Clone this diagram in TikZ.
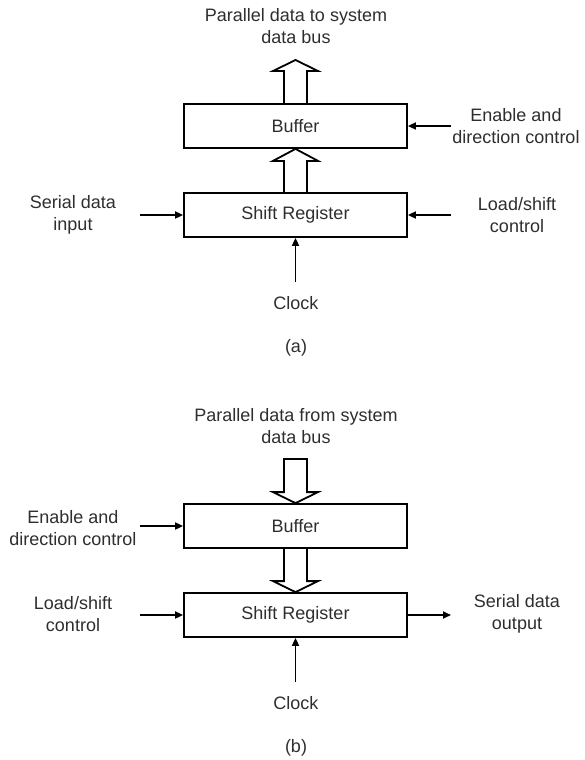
\documentclass[tikz,border=0pt]{standalone}
\usepackage{fontspec}
\setmainfont{Liberation Sans}
\usetikzlibrary{arrows.meta}
\begin{document}
\begin{tikzpicture}[x=1pt,y=1pt,
  blk/.style={draw, line width=1.8pt, minimum width=223pt, minimum height=44pt, inner sep=0pt, text=black!82},
  lbl/.style={align=center, inner sep=0pt, text=black!82, font=\fontsize{18}{21.5}\selectfont},
  sig/.style={line width=1.8pt, -{Triangle[length=8pt,width=7pt]}},
  bus/.style={line width=1.8pt, line join=miter}]
\useasboundingbox (0,0) rectangle (585,-760);
% ---------- (a) ----------
\node[blk, font=\fontsize{18}{21.5}\selectfont] (bufa) at (295.5,-126) {Buffer};
\node[blk, font=\fontsize{18}{21.5}\selectfont] (sra) at (295.5,-215) {Shift Register};
\node[lbl] (titlea) at (296,-26) {Parallel data to system\\data bus};
\node[lbl] (ena) at (516,-126) {Enable and\\direction control};
\node[lbl] (sina) at (73,-215) {Serial data\\input};
\node[lbl] (lsa) at (517,-215) {Load/shift\\control};
\node[lbl] (clka) at (296,-303) {Clock};
\node[lbl] (capa) at (296,-348) {(a)};
\coordinate (ctlA) at (451,-126);
\coordinate (sinA) at (140,-215);
\coordinate (lsA) at (451,-215);
\coordinate (clkA) at (295.5,-282);
\draw[sig] (ctlA) -- (bufa.east);
\draw[sig] (sinA) -- (sra.west);
\draw[sig] (lsA) -- (sra.east);
\draw[sig] (clkA) -- (sra.south);
% bus arrow SR -> buffer
\draw[bus] ([xshift=-11.5pt]sra.north) -- ([xshift=-11.5pt,yshift=-12pt]bufa.south) -- ++(-11,0)
  -- (bufa.south) -- ++(22.5,-12) -- ++(-11,0) -- ([xshift=11.5pt]sra.north);
% bus arrow buffer -> system bus
\coordinate (outA) at (295.5,-60);
\draw[bus] ([xshift=-11.5pt]bufa.north) -- ([xshift=-11.5pt,yshift=-11pt]outA) -- ++(-11,0)
  -- (outA) -- ++(22.5,-11) -- ++(-11,0) -- ([xshift=11.5pt]bufa.north);
% ---------- (b) ----------
\node[blk, font=\fontsize{18}{21.5}\selectfont] (bufb) at (295.5,-526) {Buffer};
\node[blk, font=\fontsize{18}{21.5}\selectfont] (srb) at (295.5,-615) {Shift Register};
\node[lbl] (titleb) at (296,-426) {Parallel data from system\\data bus};
\node[lbl] (enb) at (73,-528) {Enable and\\direction control};
\node[lbl] (lsb) at (73,-614) {Load/shift\\control};
\node[lbl] (soutb) at (517,-614) {Serial data\\output};
\node[lbl] (clkb) at (296,-703) {Clock};
\node[lbl] (capb) at (296,-748) {(b)};
\coordinate (ctlB) at (140,-526);
\coordinate (lsB) at (140,-615);
\coordinate (soB) at (451,-615);
\coordinate (clkB) at (295.5,-682);
\draw[sig] (ctlB) -- (bufb.west);
\draw[sig] (lsB) -- (srb.west);
\draw[sig] (srb.east) -- (soB);
\draw[sig] (clkB) -- (srb.south);
% bus arrow system bus -> buffer
\coordinate (inB) at (295.5,-459);
\draw[bus] ([xshift=-11.5pt]inB) -- ([xshift=-11.5pt,yshift=11pt]bufb.north) -- ++(-11,0)
  -- (bufb.north) -- ++(22.5,11) -- ++(-11,0) -- ([xshift=11.5pt]inB) -- cycle;
% bus arrow buffer -> SR
\draw[bus] ([xshift=-11.5pt]bufb.south) -- ([xshift=-11.5pt,yshift=11pt]srb.north) -- ++(-11,0)
  -- (srb.north) -- ++(22.5,11) -- ++(-11,0) -- ([xshift=11.5pt]bufb.south);
\end{tikzpicture}
\end{document}
